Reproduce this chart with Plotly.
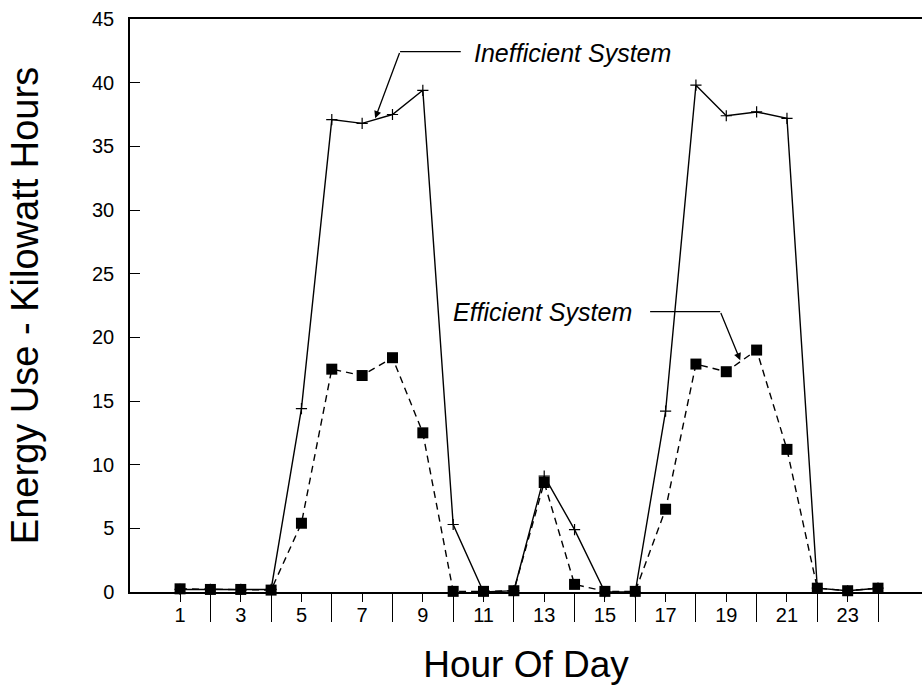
import plotly.graph_objects as go

FONT = "Liberation Sans, Arial, sans-serif"

hours = list(range(1, 25))
inefficient = [0.2, 0.2, 0.2, 0.2, 14.4, 37.1, 36.8, 37.5, 39.4, 5.3, 0.0, 0.1,
               9.1, 4.9, 0.0, 0.0, 14.2, 39.8, 37.4, 37.7, 37.2, 0.3, 0.1, 0.3]
efficient = [0.25, 0.2, 0.2, 0.15, 5.4, 17.5, 17.0, 18.4, 12.5, 0.05, 0.05, 0.1,
             8.6, 0.6, 0.05, 0.05, 6.5, 17.9, 17.3, 19.0, 11.2, 0.3, 0.1, 0.3]

odd_ticks = list(range(1, 24, 2))
even_ticks = list(range(2, 25, 2))

fig = go.Figure()
fig.add_scatter(
    x=hours, y=inefficient, mode="lines+markers", name="Inefficient System",
    line=dict(color="black", width=1.4),
    marker=dict(symbol="cross-thin", size=8, line=dict(color="black", width=1.2)),
    cliponaxis=False,
)
fig.add_scatter(
    x=hours, y=efficient, mode="lines+markers", name="Efficient System",
    line=dict(color="black", width=1.4, dash="7px,5px"),
    marker=dict(symbol="square", size=11, color="black"),
    cliponaxis=False,
)

# leader lines: horizontal stub next to the label, then an arrow to the curve
leader = dict(color="black", width=1.3)
fig.add_shape(type="line", x0=8.25, x1=10.25, y0=42.44, y1=42.44, line=leader)
fig.add_shape(type="line", x0=16.49, x1=18.8, y0=22.02, y1=22.02, line=leader)

arrow = dict(showarrow=True, arrowhead=2, arrowsize=1.1, arrowwidth=1.3,
             arrowcolor="black", axref="x", ayref="y", text="")
fig.add_annotation(x=7.43, y=37.2, ax=8.25, ay=42.44, **arrow)
fig.add_annotation(x=19.46, y=18.2, ax=18.8, ay=22.02, **arrow)

label_font = dict(family=FONT, size=25, color="black")
fig.add_annotation(x=10.62, y=42.3, text="<i>Inefficient System</i>", showarrow=False,
                   xanchor="left", yanchor="middle", font=label_font)
fig.add_annotation(x=15.95, y=22.0, text="<i>Efficient System</i>", showarrow=False,
                   xanchor="right", yanchor="middle", font=label_font)

fig.update_layout(
    width=922, height=686,
    margin=dict(l=130, r=0, t=19, b=94),
    paper_bgcolor="white", plot_bgcolor="white",
    showlegend=False,
    font=dict(family=FONT, size=20, color="black"),
)
fig.update_xaxes(
    range=[-0.65, 25.45], showgrid=False, zeroline=False, automargin=False,
    showline=True, linecolor="black", linewidth=1.5, mirror=True,
    tickmode="array", tickvals=odd_ticks, ticks="outside", ticklen=8,
    tickwidth=1.2, tickcolor="black", ticklabelstandoff=-4,
    minor=dict(tickmode="array", tickvals=even_ticks, ticks="outside",
               ticklen=28, tickwidth=1.2, tickcolor="black"),
    title=dict(text="Hour Of Day", font=dict(size=37), standoff=26),
)
fig.update_yaxes(
    range=[0, 45], showgrid=False, zeroline=False, automargin=False,
    showline=True, linecolor="black", linewidth=1.5,
    dtick=5, ticks="inside", ticklen=10, tickwidth=1.2, tickcolor="black",
    ticklabelstandoff=10,
    title=dict(text="Energy Use - Kilowatt Hours", font=dict(size=38), standoff=42),
)

# the page body has a default 8px margin; drop it so the figure fills the window
fig.write_html(
    "out.html",
    config={"displayModeBar": False},
    post_script="document.body.style.margin = '0';",
)
